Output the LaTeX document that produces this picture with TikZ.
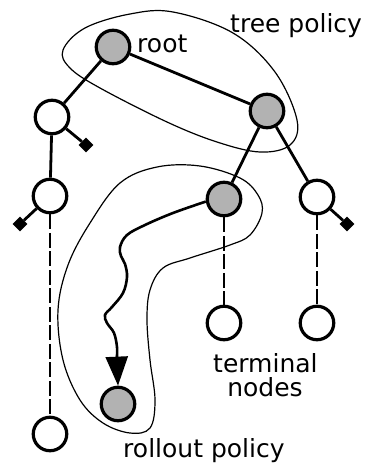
\documentclass[tikz,border=0pt]{standalone}
\usepackage{fontspec}
\setmainfont{DejaVu Sans}
\usetikzlibrary{arrows.meta}
\begin{document}
\begin{tikzpicture}[x=1pt,y=-1pt,
  nd/.style={circle,draw=black,line width=3.2pt,minimum size=33.5pt,inner sep=0pt},
  gray node/.style={nd,fill=black!30},
  white node/.style={nd,fill=white},
  leaf/.style={rectangle,fill=black,minimum size=10.5pt,inner sep=0pt,rotate=45},
  edge/.style={line width=2.8pt},
  dashedge/.style={line width=2.8pt,dash pattern=on 15pt off 3.5pt},
  blob/.style={line width=1.2pt},
  lbl/.style={font=\fontsize{25}{24}\selectfont,inner sep=0pt}]
\useasboundingbox (0,0) rectangle (364,463);
% blobs
\draw[blob] plot[smooth cycle,tension=0.6] coordinates {(63,50) (85,28) (130,14) (173,12) (233,33) (275,72) (297,120) (290,145) (260,152) (217,142) (167,122) (100,88) (70,68)};
\draw[blob] plot[smooth cycle,tension=0.6] coordinates {(157,167) (200,166) (240,178) (258,195) (262,213) (250,235) (230,245) (190,258) (163,268) (150,290) (147,320) (150,360) (155,400) (150,428) (130,433) (103,423) (80,400) (63,360) (58,310) (68,265) (90,223) (120,183)};
% nodes
\node[gray node] (root) at (113,47) {};
\node[gray node] (A) at (267,111) {};
\node[white node] (L1) at (52,117) {};
\node[white node] (L2) at (50,196) {};
\node[white node] (L3) at (50,434) {};
\node[gray node] (B) at (224,199) {};
\node[white node] (C) at (317,197) {};
\node[white node] (T1) at (224,323) {};
\node[white node] (T2) at (317,323) {};
\node[gray node] (R) at (118,404) {};
\node[leaf] (D1) at (86,145) {};
\node[leaf] (D2) at (20,224) {};
\node[leaf] (D3) at (347,224) {};
% edges
\draw[edge] (root) -- (L1);
\draw[edge] (root) -- (A);
\draw[edge] (L1) -- (L2);
\draw[edge] (A) -- (B);
\draw[edge] (A) -- (C);
\draw[edge] (L1) -- (D1);
\draw[edge] (L2) -- (D2);
\draw[edge] (C) -- (D3);
\draw[dashedge] (L2) -- (L3);
\draw[dashedge] (B) -- (T1);
\draw[dashedge] (C) -- (T2);
% rollout
\draw[line width=2.6pt,-{Triangle[length=29pt,width=22pt]}] plot[smooth,tension=0.6] coordinates {(B.188) (173,213) (145,225) (127,235) (120,247) (121,256) (125,264) (127,277) (123,293) (112,307) (105,315) (107,323) (114,333) (117,347) (117,360) (R.north)};
% labels
\node[lbl,anchor=base west] (tp) at (230,32) {tree policy};
\node[lbl,anchor=base west] (rt) at (137,52) {root};
\node[lbl,anchor=base west] (tn1) at (213,372) {terminal};
\node[lbl,anchor=base] (tn2) at (265,396) {nodes};
\node[lbl,anchor=base west] (rp) at (123,457) {rollout policy};
\end{tikzpicture}
\end{document}
